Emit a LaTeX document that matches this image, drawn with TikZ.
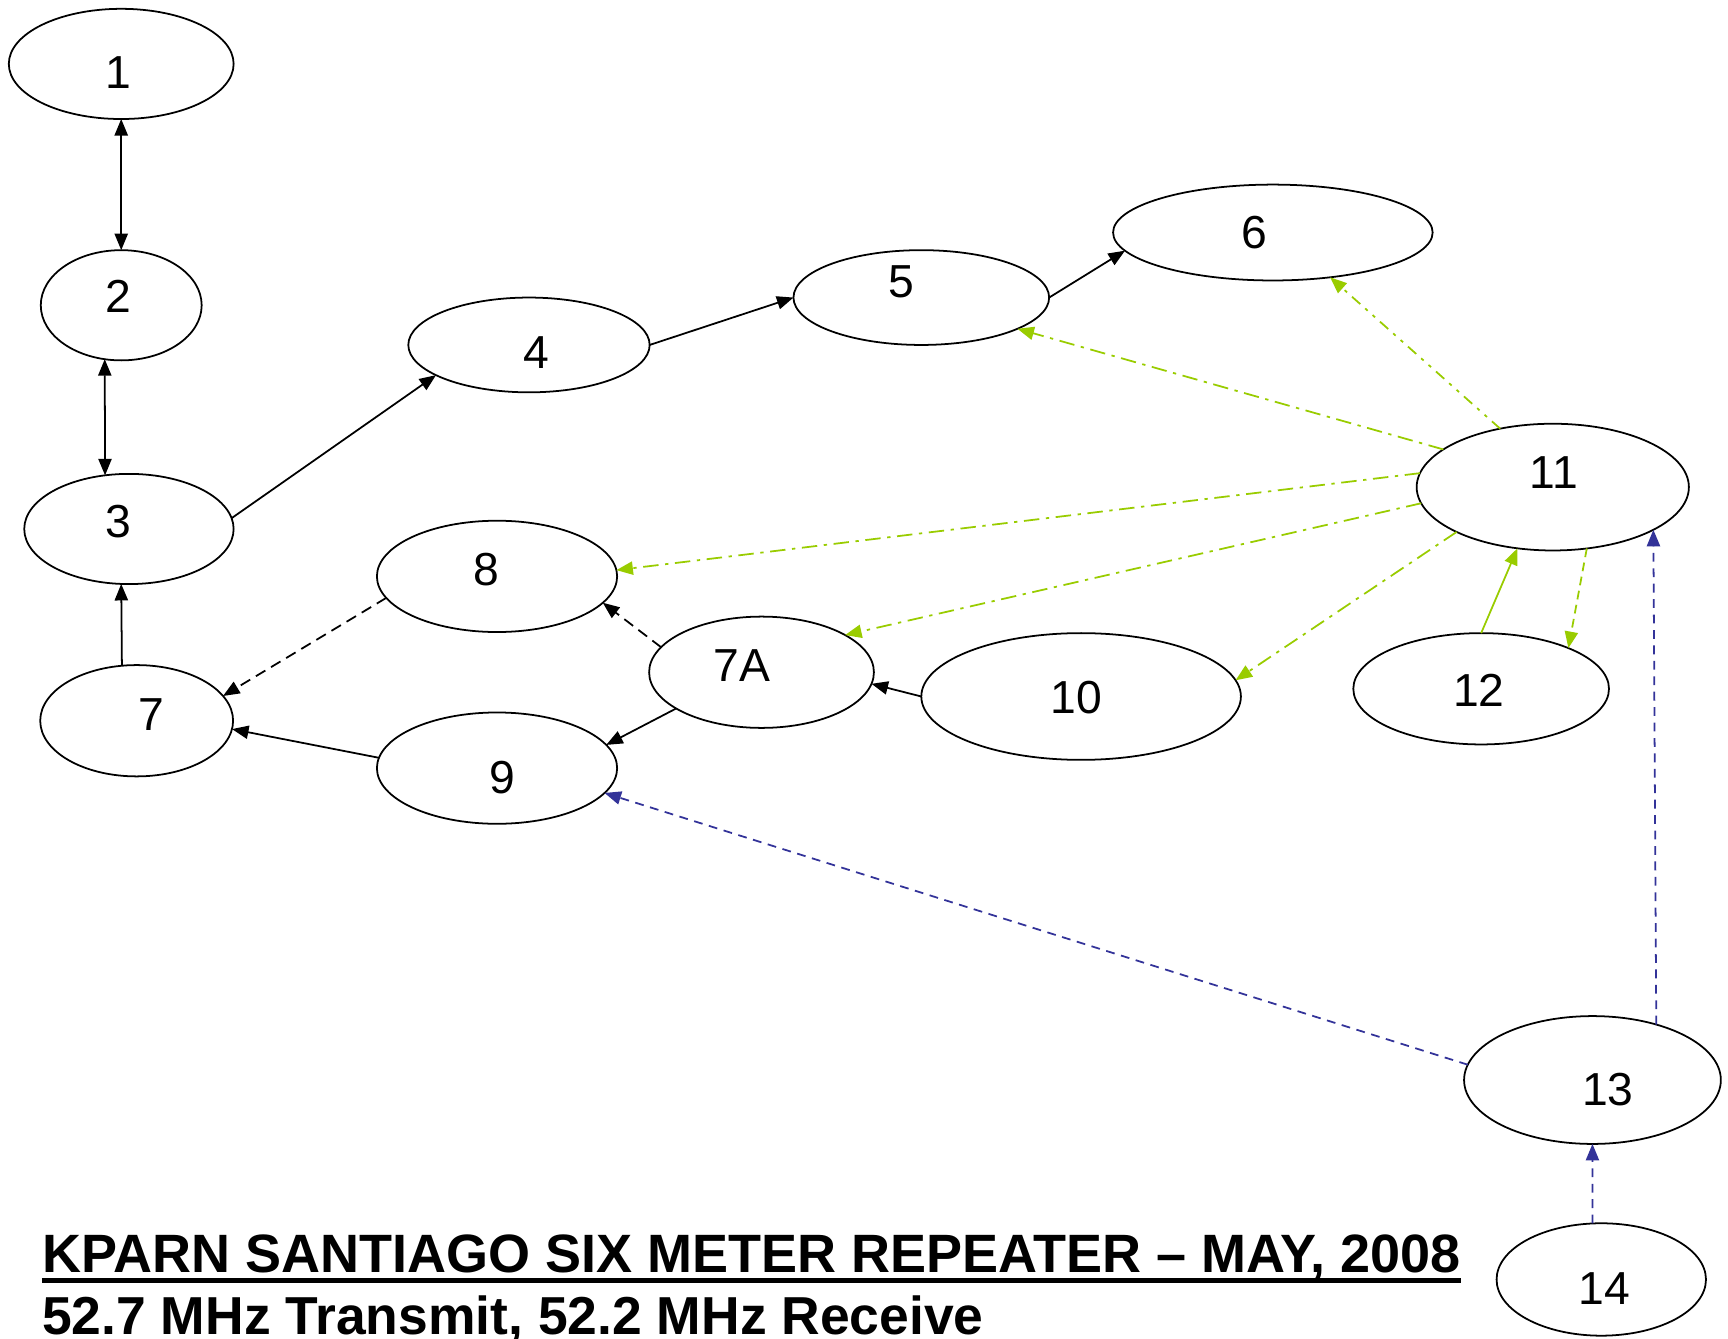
\documentclass[tikz,border=0pt]{standalone}
\usepackage{fontspec}
\setmainfont{Liberation Sans}
\usetikzlibrary{shapes.geometric,arrows.meta}
\definecolor{lgreen}{RGB}{153,204,0}
\definecolor{dblue}{RGB}{51,51,153}
\begin{document}
\begin{tikzpicture}[x=1pt,y=-1pt,
  ell/.style={ellipse,draw,line width=1.6pt,inner sep=0pt,outer sep=0pt},
  lbl/.style={inner sep=0pt,font=\fontsize{42}{48}\selectfont},
  tip/.style={-{Triangle[length=15pt,width=12pt]}},
  bitip/.style={{Triangle[length=15pt,width=12pt]}-{Triangle[length=15pt,width=12pt]}},
  blk/.style={line width=1.6pt,black},
  blkdash/.style={line width=1.6pt,black,dash pattern=on 10pt off 6pt},
  grn/.style={line width=1.6pt,lgreen},
  grndd/.style={line width=1.6pt,lgreen,dash pattern=on 14pt off 6pt on 3pt off 6pt},
  grnddd/.style={line width=1.6pt,lgreen,dash pattern=on 10pt off 6pt on 3pt off 6pt on 3pt off 6pt},
  grndash/.style={line width=1.6pt,lgreen,dash pattern=on 8pt off 5pt},
  bludash/.style={line width=1.6pt,dblue,dash pattern=on 8pt off 6pt},
  ttl/.style={inner sep=0pt,anchor=base west,font=\fontsize{49}{56}\selectfont\bfseries},
  subttl/.style={inner sep=0pt,anchor=base west,font=\fontsize{48.5}{56}\selectfont\bfseries}
]
\useasboundingbox (0,0) rectangle (1568,1215);

% ellipses
\node[ell,minimum width=204pt,minimum height=100pt] (n1) at (110,58) {};
\node[ell,minimum width=146pt,minimum height=100pt] (n2) at (110,277) {};
\node[ell,minimum width=190pt,minimum height=100pt] (n3) at (117,480) {};
\node[ell,minimum width=219pt,minimum height=86pt] (n4) at (480,313) {};
\node[ell,minimum width=232pt,minimum height=86pt] (n5) at (836,270) {};
\node[ell,minimum width=290pt,minimum height=87pt] (n6) at (1155,211) {};
\node[ell,minimum width=175pt,minimum height=101pt] (n7) at (124,654) {};
\node[ell,minimum width=204pt,minimum height=101pt] (n7a) at (691,610) {};
\node[ell,minimum width=218pt,minimum height=101pt] (n8) at (451,523) {};
\node[ell,minimum width=218pt,minimum height=101pt] (n9) at (451,697) {};
\node[ell,minimum width=290pt,minimum height=115pt] (n10) at (981,632) {};
\node[ell,minimum width=247pt,minimum height=115pt] (n11) at (1409,442) {};
\node[ell,minimum width=232pt,minimum height=101pt] (n12) at (1344,625) {};
\node[ell,minimum width=233pt,minimum height=116pt] (n13) at (1445,980) {};
\node[ell,minimum width=190pt,minimum height=102pt] (n14) at (1453,1161) {};

% labels
\node[lbl] (t1) at (107,66) {1};
\node[lbl] (t2) at (107,269) {2};
\node[lbl] (t3) at (107,473) {3};
\node[lbl] (t4) at (487,320) {4};
\node[lbl] (t5) at (818,256) {5};
\node[lbl] (t6) at (1138,211) {6};
\node[lbl] (t7) at (137,648) {7};
\node[lbl] (t7a) at (673,604) {7A};
\node[lbl] (t8) at (441,517) {8};
\node[lbl] (t9) at (456,706) {9};
\node[lbl] (t10) at (977,633) {10};
\node[lbl] (t11) at (1410,429) {11};
\node[lbl] (t12) at (1342,626) {12};
\node[lbl] (t13) at (1459,989) {13};
\node[lbl] (t14) at (1456,1169) {14};

% black connectors
\draw[blk,bitip] (n1.south) -- (n2.north);
\draw[blk,bitip] (n2.253) -- (n3.114.4);
\draw[blk,tip] (n3.6) -- (n4.198);
\draw[blk,tip] (n4.east) -- (n5.west);
\draw[blk,tip] (n5.east) -- (n6.187);
\draw[blk,tip] (n7.105.7) -- (n3.262);
\draw[blkdash,tip] (n8.191.6) -- (n7.16.6);
\draw[blkdash,tip] (n7a.166) -- (n8.346.5);
\draw[blk,tip] (n7a.203.6) -- (n9.12.2);
\draw[blk,tip] (n10.west) -- (n7a.354.2);
\draw[blk,tip] (n9.175.8) -- (n7.355.6);

% green connectors
\draw[grndd,tip] (n11.161.7) -- (n5.342.5);
\draw[grnddd,tip] (n11.132.8) -- (n6.322.7);
\draw[grndd,tip] (n11.174) -- (n8.3.7);
\draw[grndd,tip] (n11.187.9) -- (n7a.24);
\draw[grndd,tip] (n11.205.8) -- (n10.6.3);
\draw[grn,tip] (n12.north) -- (n11.240.2);
\draw[grndash,tip] (n11.299.1) -- (n12.25.9);

% blue connectors
\draw[bludash,tip] (n13.173.6) -- (n9.347.1);
\draw[bludash,tip] (n13.41.6) -- (n11.337.9);
\draw[bludash,tip] (n14.99) -- (n13.south);

% title
\node[ttl] (title) at (38,1155) {KPARN SANTIAGO SIX METER REPEATER – MAY, 2008};
\draw[line width=4pt] ([yshift=-7pt]title.base west) -- ([yshift=-7pt]title.base east);
\node[subttl] (sub) at (38,1211) {52.7 MHz Transmit, 52.2 MHz Receive};
\end{tikzpicture}
\end{document}
